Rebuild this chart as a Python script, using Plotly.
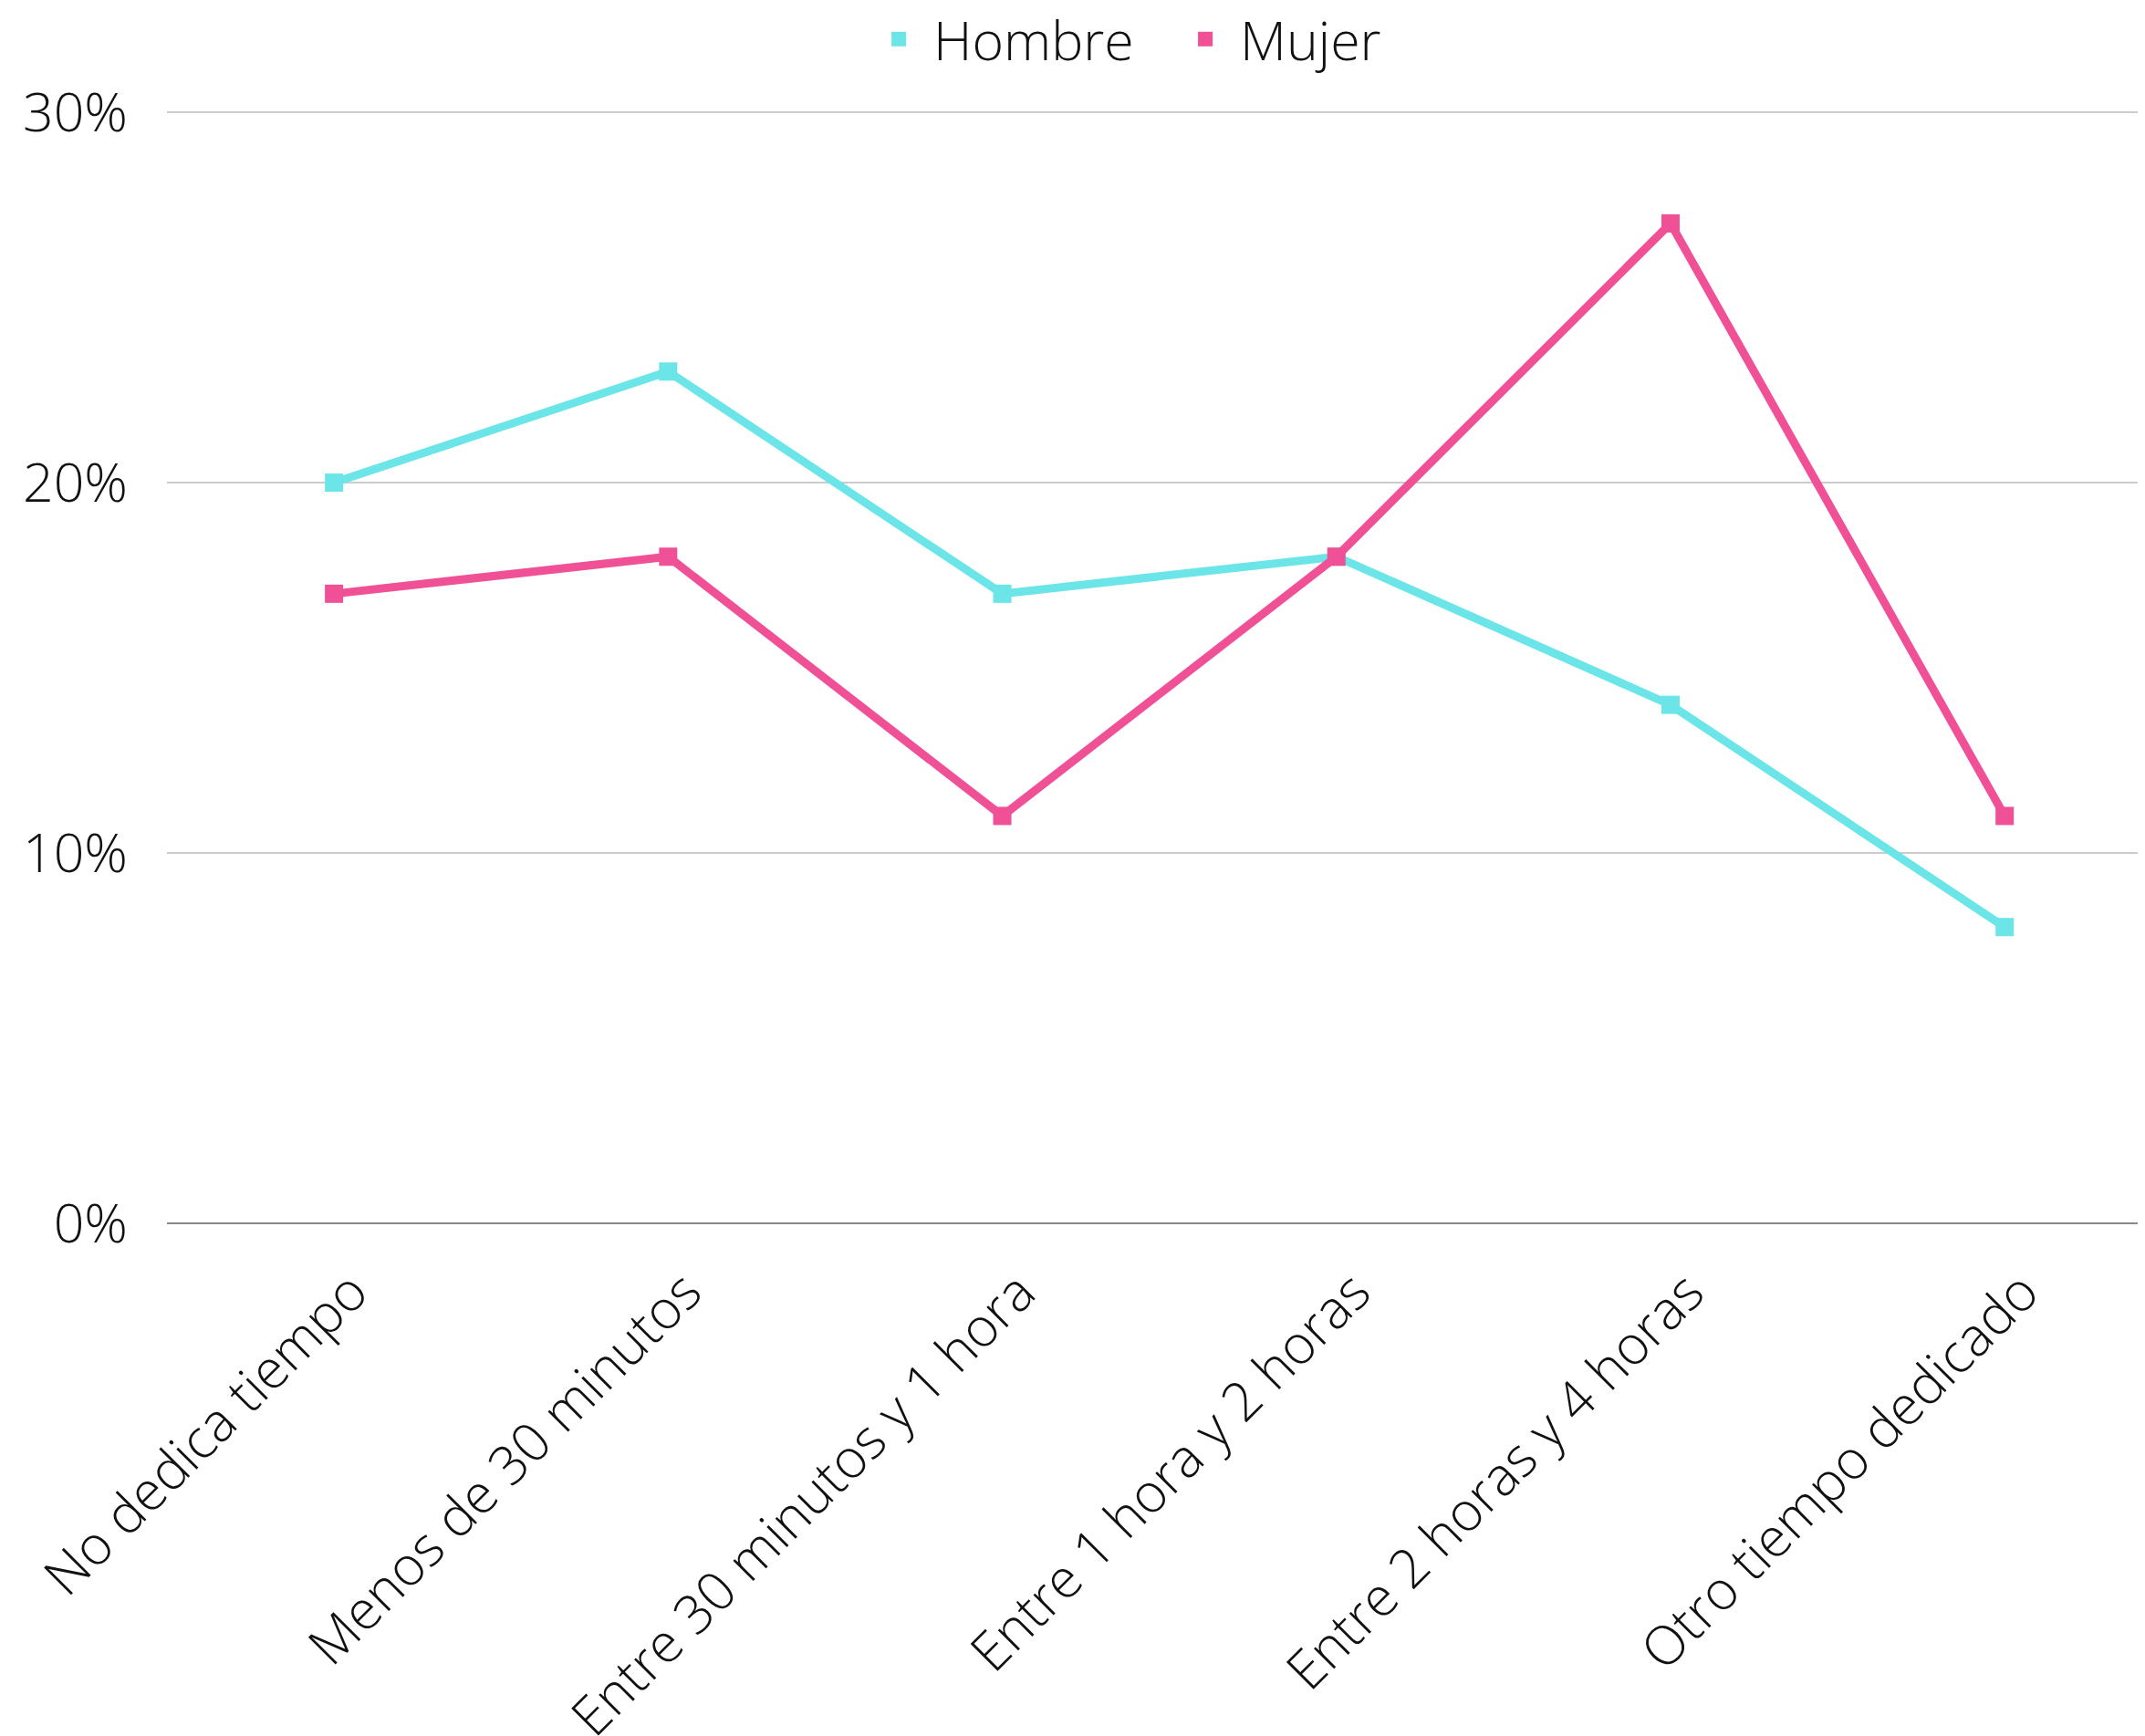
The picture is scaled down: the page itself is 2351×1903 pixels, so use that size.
import plotly.graph_objects as go

categories = ["No dedica tiempo", "Menos de 30 minutos", "Entre 30 minutos y 1 hora",
              "Entre 1 hora y 2 horas", "Entre 2 horas y 4 horas", "Otro tiempo dedicado"]
hombre = [20, 23, 17, 18, 14, 8]
mujer = [17, 18, 11, 18, 27, 11]
y_ticks = [0, 10, 20, 30]
y_ticklabels = ["0%", "10%", "20%", "30%"]

FONT = "Open Sans"
TXT = "#111111"
FS = 59
C_H = "#6CE5E8"
C_M = "#F05196"

fig = go.Figure()
for name, vals, col in [("Hombre", hombre, C_H), ("Mujer", mujer, C_M)]:
    fig.add_trace(go.Scatter(x=categories, y=vals, name=name, mode="lines+markers",
                             line=dict(color=col, width=9),
                             marker=dict(symbol="square", size=20, color=col),
                             showlegend=False))
    # legend entry: square marker only
    fig.add_trace(go.Scatter(x=[None], y=[None], name=name, mode="markers",
                             marker=dict(symbol="square", size=17, color=col),
                             showlegend=True))

# x category labels, rotated, placed through the x scale
for c in categories:
    fig.add_annotation(x=c, xref="x", y=0, yref="paper", text=c, showarrow=False,
                       textangle=-45, xanchor="right", yanchor="top",
                       xshift=55, yshift=-32,
                       font=dict(family=FONT, size=FS, color=TXT, weight=300))

fig.update_layout(
    width=2343, height=1895,
    margin=dict(l=175, r=0, t=109, b=562, autoexpand=False),
    paper_bgcolor="white", plot_bgcolor="white",
    font=dict(family=FONT, size=FS, color=TXT, weight=300),
    showlegend=True,
    legend=dict(orientation="h", xref="container", yref="paper",
                x=0.4008, xanchor="left", y=1.0605, yanchor="middle",
                font=dict(family=FONT, size=FS, color=TXT, weight=300),
                itemsizing="trace", itemwidth=66, tracegroupgap=0,
                entrywidth=255, entrywidthmode="pixels"),
)
fig.update_xaxes(
    type="category", range=[-0.5, 5.42], showgrid=False, showline=False,
    showticklabels=False, ticks="",
)
fig.update_yaxes(
    range=[0, 30.15], tickvals=y_ticks, ticktext=y_ticklabels,
    showgrid=True, gridcolor="#CCCCCC", gridwidth=2,
    zeroline=True, zerolinecolor="#888888", zerolinewidth=2,
    showline=False, ticks="", ticklabelstandoff=42,
    tickfont=dict(family=FONT, size=FS, color=TXT, weight=300),
)

fig.write_html("out.html")
